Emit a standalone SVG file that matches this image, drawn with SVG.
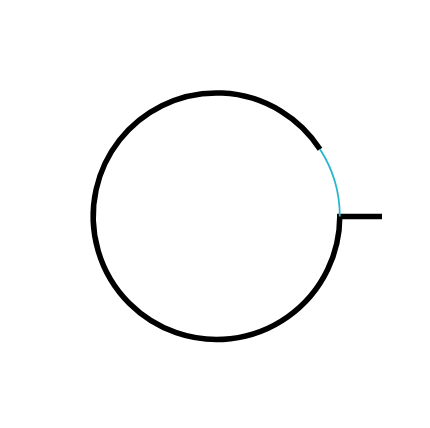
<svg xmlns="http://www.w3.org/2000/svg" width="430" height="428" viewBox="0 0 430 428">
<style>
.ring{fill:none;stroke:#000;stroke-width:5.5;stroke-linejoin:miter;stroke-linecap:butt}
.hl{fill:none;stroke:#2ab7ca;stroke-width:1.8}
</style>
<rect width="430" height="428" fill="#fff"/>
<g id="circle">
<path class="ring" d="M382,216.5 H339.8 A123.3,123.3 0 1 1 320,149.2"/>
<path class="hl" d="M320,149.2 A123.3,123.3 0 0 1 339.8,216.5"/>
</g>
</svg>
